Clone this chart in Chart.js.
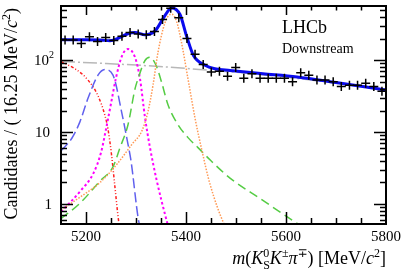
<!DOCTYPE html>
<html>
<head>
<meta charset="utf-8">
<script src="https://cdn.jsdelivr.net/npm/chart.js@4"></script>
<style>
  body { margin: 0; background: #fff; }
  #wrap { width: 407px; height: 274px; position: relative; }
</style>
</head>
<body>
<div id="wrap"><canvas id="massChart"></canvas></div>
<script>
// Bin centres (16.25 MeV bins from 5150 to 5800) and candidates per bin
const binCenters = [5158.1, 5174.4, 5190.6, 5206.9, 5223.1, 5239.4, 5255.6, 5271.9, 5288.1, 5304.4,
  5320.6, 5336.9, 5353.1, 5369.4, 5385.6, 5401.9, 5418.1, 5434.4, 5450.6, 5466.9,
  5483.1, 5499.4, 5515.6, 5531.9, 5548.1, 5564.4, 5580.6, 5596.9, 5613.1, 5629.4,
  5645.6, 5661.9, 5678.1, 5694.4, 5710.6, 5726.9, 5743.1, 5759.4, 5775.6, 5791.9];
const candidates = [190, 190, 171, 211, 182, 207, 188, 215, 242, 232,
  225, 250, 368, 525, 388, 200, 121, 87, 68.5, 70,
  60, 79, 56, 65, 56, 56, 56, 56, 50, 67,
  62, 53, 53, 50, 43, 45, 45, 48, 43, 37];

// Fit components
const totalMass = [5150, 5170, 5200, 5228, 5248, 5268, 5285, 5298, 5318, 5338, 5355, 5371, 5388, 5401, 5415, 5438, 5458, 5488, 5554, 5622, 5700, 5800];
const totalFit = [192, 192, 192, 191, 186, 207, 235, 242, 225, 255, 388, 532, 431, 218, 116, 85, 76, 72, 65, 58.6, 49, 38.4];

const combMass = [5150, 5240, 5320, 5400, 5450, 5500, 5550, 5600, 5650, 5700, 5750, 5800];
const combFit = [96, 90, 84, 77, 72, 68, 63, 58, 53, 48, 43, 38];

const partRecoMass = [5150, 5178, 5204, 5224, 5238, 5244, 5251, 5258, 5265, 5268];
const partRecoFit = [95, 76, 53, 32, 17, 11, 4.9, 1.7, 0.6, 0.45];

const bluePeakMass = [5150, 5172, 5188, 5204, 5224, 5238, 5254, 5272, 5282, 5290, 5305, 5310];
const bluePeakFit = [5.5, 8.3, 14, 29.5, 62, 74, 62, 18, 8, 4, 0.6, 0.45];

const b0Mass = [5150, 5188, 5215, 5230, 5240, 5250, 5260, 5272, 5284, 5298, 5308, 5318, 5328, 5341, 5361, 5366];
const b0Fit = [0.78, 1.5, 2.7, 5.2, 11, 25, 57, 115, 143, 110, 55, 16, 6.1, 2.2, 0.6, 0.45];

const crossMass = [5150, 5188, 5228, 5254, 5268, 5284, 5298, 5304, 5318, 5328, 5340, 5351, 5364, 5384, 5404, 5424, 5450, 5488, 5548, 5624, 5640];
const crossFit = [0.63, 1.03, 2.1, 3.3, 6.1, 12.7, 40, 55, 99, 110, 85, 50, 24, 12.7, 8.4, 6.1, 4, 2.3, 1.2, 0.53, 0.45];

const bsMass = [5150, 5188, 5228, 5262, 5292, 5312, 5324, 5334, 5344, 5358, 5368, 5372, 5381, 5391, 5404, 5418, 5432, 5448, 5476, 5482];
const bsFit = [0.83, 1.25, 2, 3.6, 6.8, 10.5, 19.4, 45, 129, 332, 431, 435, 349, 176, 55, 15.7, 5.5, 1.9, 0.53, 0.45];

const xTickLabels = [5200, 5400, 5600, 5800];
const yTickLabels = [1, 10, 100];

const SERIF = '"Liberation Serif", "DejaVu Serif", serif';

function pts(xs, ys) {
  return xs.map((m, i) => ({ x: m, y: ys[i] }));
}

function curve(xs, ys, color, width, dash, order) {
  return {
    data: pts(xs, ys),
    borderColor: color,
    borderWidth: width,
    borderDash: dash,
    pointRadius: 0,
    fill: false,
    cubicInterpolationMode: 'monotone',
    order: order
  };
}

// draw a run of text pieces: [text, size, italic, dy, (stacked text, stacked dy)]
function richText(ctx, parts, x, y) {
  let cx = x;
  parts.forEach(p => {
    ctx.font = (p[2] ? 'italic ' : '') + p[1] + 'px ' + SERIF;
    if (p[4] !== undefined) {
      ctx.fillText(p[0], cx, y + p[3]);
      ctx.fillText(p[4], cx, y + p[5]);
      const w1 = ctx.measureText(p[0]).width, w2 = ctx.measureText(p[4]).width;
      cx += Math.max(w1, w2);
    } else {
      ctx.fillText(p[0], cx, y + p[3]);
      cx += ctx.measureText(p[0]).width;
    }
  });
  return cx - x;
}
function richWidth(ctx, parts) {
  let w = 0;
  parts.forEach(p => {
    ctx.font = (p[2] ? 'italic ' : '') + p[1] + 'px ' + SERIF;
    let a = ctx.measureText(p[0]).width;
    if (p[4] !== undefined) a = Math.max(a, ctx.measureText(p[4]).width);
    w += a;
  });
  return w;
}

const rootFrame = {
  id: 'rootFrame',
  afterDraw(chart) {
    const { ctx, chartArea: a, scales: { x, y } } = chart;
    ctx.save();
    ctx.strokeStyle = '#000';
    ctx.fillStyle = '#000';

    // ticks on x (bottom and top)
    ctx.lineWidth = 1.5;
    for (let v = 5200; v < 5800; v += 50) {
      const px = Math.round(x.getPixelForValue(v)) + 0.5;
      const len = xTickLabels.includes(v) ? 12 : 6;
      ctx.beginPath();
      ctx.moveTo(px, a.bottom); ctx.lineTo(px, a.bottom - len);
      ctx.moveTo(px, a.top); ctx.lineTo(px, a.top + len * 0.75);
      ctx.stroke();
    }
    // log ticks on y (left and right)
    [0.1, 1, 10, 100].forEach(d => {
      for (let k = 1; k <= 9; k++) {
        const v = k * d;
        if (v < y.min || v > y.max) continue;
        const py = Math.round(y.getPixelForValue(v)) + 0.5;
        const len = k === 1 ? 12 : 6;
        ctx.beginPath();
        ctx.moveTo(a.left, py); ctx.lineTo(a.left + len, py);
        ctx.moveTo(a.right, py); ctx.lineTo(a.right - len, py);
        ctx.stroke();
      }
    });

    // frame
    ctx.lineWidth = 2;
    ctx.strokeRect(a.left, a.top, a.right - a.left, a.bottom - a.top);

    // x tick labels
    ctx.font = '15px ' + SERIF;
    ctx.textAlign = 'center';
    ctx.textBaseline = 'alphabetic';
    xTickLabels.forEach(v => {
      ctx.fillText(String(v), x.getPixelForValue(v), 241);
    });

    // y tick labels
    ctx.textAlign = 'right';
    ctx.textBaseline = 'middle';
    yTickLabels.forEach(v => {
      const py = y.getPixelForValue(v) + 1;
      if (v === 100) {
        ctx.font = '15px ' + SERIF;
        ctx.fillText('10', 49, py);
        ctx.font = '10px ' + SERIF;
        ctx.textAlign = 'left';
        ctx.fillText('2', 49, py - 6);
        ctx.textAlign = 'right';
      } else {
        ctx.font = '15px ' + SERIF;
        ctx.fillText(String(v), v === 1 ? 52 : 50, py);
      }
    });

    // x axis title
    ctx.textAlign = 'left';
    ctx.textBaseline = 'alphabetic';
    const xTitle = [
      ['m', 18, true, 0], ['(', 18, false, 0], ['K', 18, true, 0],
      ['0', 12, false, -7, 'S', 5], ['K', 18, true, 0], ['\u00b1', 12, false, -7],
      ['\u03c0', 18, true, 0], ['\u2213', 12, false, -7], [') [MeV/', 18, false, 0],
      ['c', 18, true, 0], ['2', 12, false, -7], [']', 18, false, 0]
    ];
    const xw = richWidth(ctx, xTitle);
    richText(ctx, xTitle, 386 - xw, 264);

    // y axis title (rotated, aligned to the top)
    const yTitle = [
      ['Candidates / ( 16.25 MeV/', 18, false, 0], ['c', 18, true, 0],
      ['2', 12, false, -7], [')', 18, false, 0]
    ];
    const yw = richWidth(ctx, yTitle);
    ctx.save();
    ctx.translate(17, 8);
    ctx.rotate(-Math.PI / 2);
    richText(ctx, yTitle, -yw, 0);
    ctx.restore();

    // labels
    ctx.font = '18px ' + SERIF;
    ctx.fillText('LHCb', 282, 33);
    ctx.font = '14px ' + SERIF;
    ctx.fillText('Downstream', 282, 53);
    ctx.restore();
  }
};

new Chart(document.getElementById('massChart').getContext('2d'), {
  type: 'line',
  data: {
    datasets: [
      {
        data: pts(binCenters, candidates),
        showLine: false,
        pointStyle: 'cross',
        pointRadius: 4.5,
        pointBorderWidth: 1.5,
        pointBorderColor: '#000',
        order: 0
      },
      curve(totalMass, totalFit, '#0a0aee', 3, [], 1),
      curve(bsMass, bsFit, '#ff9955', 1.5, [1.5, 1.5], 2),
      curve(crossMass, crossFit, '#55cc44', 1.5, [9, 5], 3),
      curve(b0Mass, b0Fit, '#ff00ff', 2, [2.5, 2.5], 4),
      curve(bluePeakMass, bluePeakFit, '#6060ee', 1.5, [10, 4], 5),
      curve(partRecoMass, partRecoFit, '#ff2020', 1.5, [3, 2, 1, 2, 1, 2], 6),
      curve(combMass, combFit, '#b8b8b8', 1.5, [14, 3, 2, 3], 7)
    ]
  },
  options: {
    responsive: true,
    maintainAspectRatio: false,
    animation: false,
    layout: { padding: { top: 3, right: 21, left: 0, bottom: 0 } },
    plugins: { legend: { display: false }, tooltip: { enabled: false } },
    scales: {
      x: {
        type: 'linear',
        min: 5150,
        max: 5800,
        grid: { display: false },
        border: { display: false },
        ticks: { display: false },
        afterFit: s => { s.height = 50; }
      },
      y: {
        type: 'logarithmic',
        min: 0.53,
        max: 566,
        grid: { display: false },
        border: { display: false },
        ticks: { display: false },
        afterFit: s => { s.width = 61; }
      }
    }
  },
  plugins: [rootFrame]
});
</script>
</body>
</html>
